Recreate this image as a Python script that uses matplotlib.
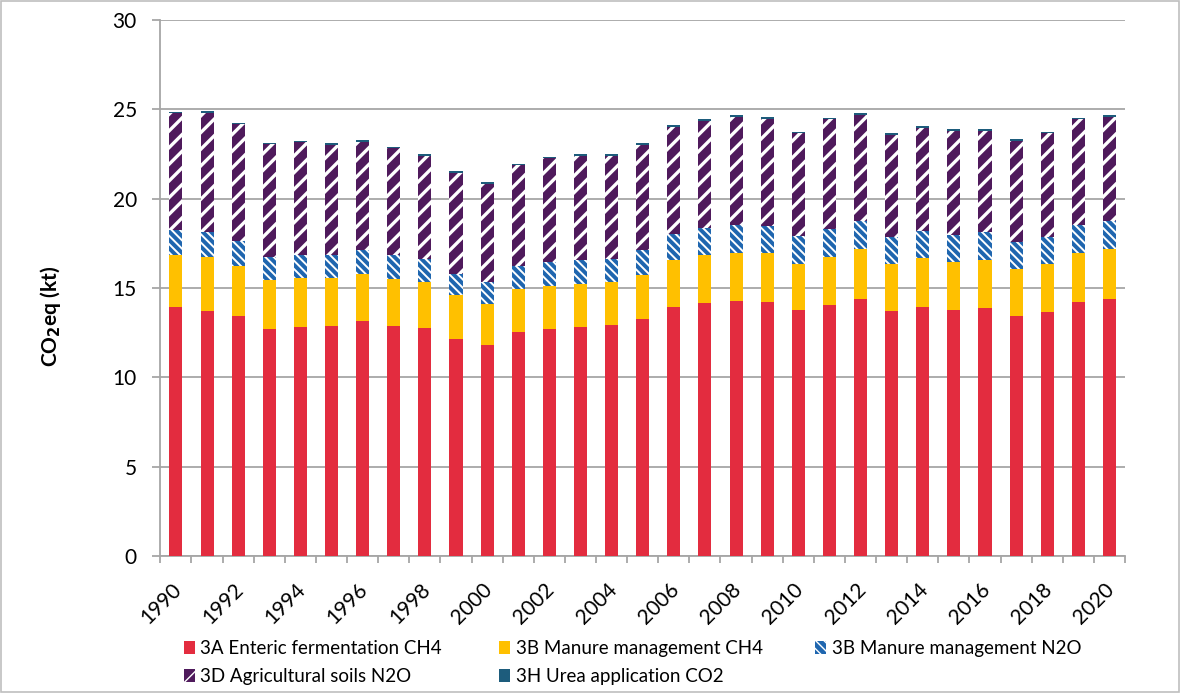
import numpy as np
import matplotlib
matplotlib.use('Agg')
import matplotlib.pyplot as plt
from matplotlib.patches import Rectangle
from matplotlib.transforms import ScaledTranslation

plt.rcParams['font.family'] = ['Lato', 'DejaVu Sans']

years = np.arange(1990, 2021)
year_labels = [str(y) if y % 2 == 0 else '' for y in years]

# kt CO2eq per source
enteric_ch4 = [13.91, 13.74, 13.42, 12.69, 12.82, 12.86, 13.14, 12.88, 12.75, 12.17,
               11.80, 12.52, 12.69, 12.79, 12.95, 13.25, 13.94, 14.17, 14.26, 14.22,
               13.76, 14.07, 14.39, 13.70, 13.96, 13.76, 13.89, 13.42, 13.67, 14.21, 14.39]
manure_ch4 = [2.93, 2.99, 2.84, 2.75, 2.73, 2.69, 2.67, 2.62, 2.60, 2.43,
              2.31, 2.45, 2.43, 2.44, 2.36, 2.47, 2.64, 2.69, 2.69, 2.73,
              2.61, 2.68, 2.79, 2.66, 2.73, 2.71, 2.69, 2.66, 2.69, 2.76, 2.79]
manure_n2o = [1.38, 1.42, 1.37, 1.29, 1.31, 1.29, 1.31, 1.32, 1.27, 1.21,
              1.22, 1.27, 1.33, 1.35, 1.33, 1.40, 1.46, 1.50, 1.55, 1.54,
              1.54, 1.57, 1.59, 1.49, 1.52, 1.51, 1.53, 1.47, 1.49, 1.57, 1.55]
soils_n2o = [6.56, 6.67, 6.53, 6.33, 6.31, 6.18, 6.07, 6.02, 5.79, 5.64,
             5.51, 5.64, 5.81, 5.83, 5.77, 5.90, 5.99, 6.01, 6.09, 5.99,
             5.75, 6.12, 5.94, 5.73, 5.77, 5.83, 5.70, 5.68, 5.83, 5.90, 5.86]
urea_co2 = [0.08, 0.08, 0.07, 0.07, 0.08, 0.07, 0.08, 0.08, 0.08, 0.08,
            0.09, 0.08, 0.08, 0.08, 0.08, 0.08, 0.08, 0.08, 0.08, 0.09,
            0.08, 0.08, 0.08, 0.08, 0.09, 0.08, 0.08, 0.09, 0.08, 0.08, 0.08]

names = ['3A Enteric fermentation CH4', '3B Manure management CH4',
         '3B Manure management N2O', '3D Agricultural soils N2O',
         '3H Urea application CO2']

c_red = '#E32C3F'
c_yel = '#FFC000'
c_blu = '#1F66AF'
c_pur = '#4F1A5C'
c_tea = '#1D5C7C'

fig = plt.figure(figsize=(11.8, 6.93), dpi=100)
ax = fig.add_axes([0.1359, 0.1977, 0.8175, 0.7734])

x = np.arange(len(years))
w = 0.42
b1 = np.array(enteric_ch4)
b2 = b1 + np.array(manure_ch4)
b3 = b2 + np.array(manure_n2o)
b4 = b3 + np.array(soils_n2o)

h1 = ax.bar(x, enteric_ch4, w, color=c_red, linewidth=0, zorder=3)
h2 = ax.bar(x, manure_ch4, w, bottom=b1, color=c_yel, linewidth=0, zorder=3)
with plt.rc_context({'hatch.linewidth': 1.4}):
    h3 = ax.bar(x, manure_n2o, w, bottom=b2, facecolor=c_blu, edgecolor='white',
                hatch='\\\\\\\\', linewidth=0, zorder=3)
with plt.rc_context({'hatch.linewidth': 2.4}):
    h4 = ax.bar(x, soils_n2o, w, bottom=b3, facecolor=c_pur, edgecolor='white',
                hatch='//', linewidth=0, zorder=3)
h5 = ax.bar(x, urea_co2, w, bottom=b4, color=c_tea, linewidth=0, zorder=3)

ax.set_xlim(-0.5, len(years) - 0.5)
ax.set_ylim(0, 30)
ax.set_yticks(np.arange(0, 31, 5))
ax.yaxis.grid(True, color='#A6A6A6', linewidth=1.3, zorder=0)
ax.set_axisbelow(True)

for s in ['top', 'right']:
    ax.spines[s].set_visible(False)
for s in ['left', 'bottom']:
    ax.spines[s].set_color('#A6A6A6')
    ax.spines[s].set_linewidth(1.3)

ax.tick_params(axis='y', length=6, width=1.3, color='#A6A6A6', pad=11, labelsize=15)
# year labels at bar centres, tick marks at category boundaries
ax.set_xticks(x[::2])
ax.set_xticklabels(year_labels[::2], rotation=45, ha='right', va='top',
                   rotation_mode='anchor', fontsize=15)
ax.tick_params(axis='x', which='major', length=0, pad=17)
shift = ScaledTranslation(-0.05, 0, fig.dpi_scale_trans)
for lab in ax.get_xticklabels():
    lab.set_transform(lab.get_transform() + shift)
ax.set_xticks(np.arange(-0.5, len(years), 1), minor=True)
ax.tick_params(axis='x', which='minor', length=5, width=1.3, color='#A6A6A6')

ax.set_ylabel(r'CO$_\mathbf{2}$eq (kt)', fontsize=15, fontweight='bold')
ax.yaxis.set_label_coords(-0.1005, 0.447)

kw = dict(frameon=False, fontsize=13.5, handlelength=0.58, handleheight=0.68,
          handletextpad=0.3, labelspacing=0.58, borderpad=0, borderaxespad=0,
          loc='upper left')
top = 1 - 640 / 693
fig.legend([h1, h4], [names[0], names[3]], bbox_to_anchor=(184 / 1180, top), **kw)
fig.legend([h2, h5], [names[1], names[4]], bbox_to_anchor=(499 / 1180, top), **kw)
fig.legend([h3], [names[2]], bbox_to_anchor=(815 / 1180, top), **kw)

fig.patches.append(Rectangle((0.001, 0.001), 0.998, 0.997, transform=fig.transFigure,
                             fill=False, edgecolor='#BFBFBF', linewidth=1.2))

fig.savefig('out.png', dpi=100)
